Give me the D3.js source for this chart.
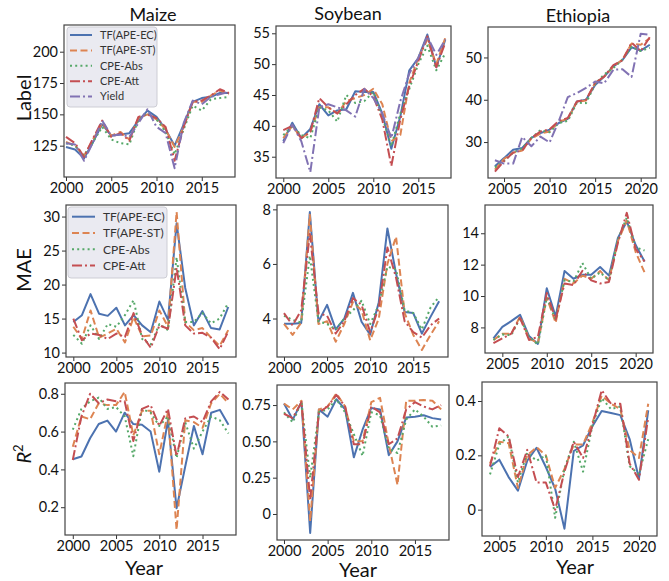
<!DOCTYPE html>
<html>
<head>
<meta charset="utf-8">
<script src="https://cdn.jsdelivr.net/npm/d3@7"></script>
<style>
  body { margin: 0; background: #fff; }
  svg { display: block; font-family: Lato, "Open Sans", sans-serif; }
</style>
</head>
<body>
<svg id="chart" width="669" height="581"></svg>
<script>
// ---- data ----
const seriesNames = ['TF(APE-EC)', 'TF(APE-ST)', 'CPE-Abs', 'CPE-Att', 'Yield'];
const cropNames = ['Maize', 'Soybean', 'Ethiopia'];
const metricNames = ['Label', 'MAE', 'R2'];

const usYears = [2000, 2001, 2002, 2003, 2004, 2005, 2006, 2007, 2008, 2009, 2010, 2011, 2012, 2013, 2014, 2015, 2016, 2017, 2018];
const ethYears = [2004, 2005, 2006, 2007, 2008, 2009, 2010, 2011, 2012, 2013, 2014, 2015, 2016, 2017, 2018, 2019, 2020, 2021];

// Maize - Label
const maizeLabelEC = [124, 122, 115, 128, 142, 133, 134, 135, 145, 153, 148, 138, 125, 142, 160, 163, 164, 167, 167];
const maizeLabelST = [128, 125, 117, 130, 143, 133, 136, 130, 147, 150, 146, 138, 124, 140, 160, 160, 165, 169, 166];
const maizeLabelAbs = [127, 125, 117, 128, 140, 130, 127, 126, 146, 151, 146, 136, 118, 138, 157, 153, 162, 163, 164];
const maizeLabelAtt = [132, 127, 116, 131, 145, 132, 135, 129, 148, 150, 147, 140, 113, 140, 160, 161, 165, 170, 167];
const maizeYield = [127, 126, 113, 128, 145, 133, 134, 132, 143, 154, 140, 135, 107, 143, 161, 158, 164, 166, 168];

// Soybean - Label
const soyLabelEC = [37.5, 40.5, 38, 39.5, 43.5, 41.7, 42.5, 42.7, 45.6, 45.5, 45.5, 42, 36.3, 41.5, 49, 51, 54.8, 49.5, 54];
const soyLabelST = [38, 40, 38, 39, 43, 43, 42, 44, 44.5, 45, 46, 43.5, 37.5, 38.5, 47, 51, 54, 50, 54.3];
const soyLabelAbs = [38.5, 40, 38.5, 38, 43, 42.5, 40.7, 45, 43.7, 44, 45.5, 41.5, 36.7, 42, 46, 50, 53, 49, 51.8];
const soyLabelAtt = [39.3, 40, 38, 39, 44.5, 43, 42, 43.5, 45, 46, 44.8, 41, 33.5, 41, 46.5, 50.5, 54.5, 49.5, 53.5];
const soyYield = [37.2, 40.2, 37.5, 32.5, 43, 43.5, 43, 42.5, 41.5, 46, 44.5, 42, 38, 44, 48.5, 51, 54.5, 51.5, 54];

// Ethiopia - Label
const ethLabelEC = [24.3, 26.2, 28.2, 28.6, 31, 32.1, 32.9, 34.5, 35.5, 39.6, 40, 43.5, 45.5, 47.9, 49.4, 52.4, 51.6, 53];
const ethLabelST = [23.5, 26, 27.5, 28, 30.8, 32, 32.5, 34.8, 35.5, 39.5, 39.8, 44, 45.5, 47.8, 49.5, 53.3, 53, 54.5];
const ethLabelAbs = [24, 25.5, 27.5, 28.5, 31, 32.8, 32.3, 34.5, 35, 39.3, 39.2, 43.7, 46, 47.5, 49.5, 52.5, 51.5, 52.3];
const ethLabelAtt = [23, 25.5, 27.5, 28, 31, 32.5, 33, 35, 35.7, 39.6, 40, 44, 45.5, 48.2, 49.3, 53.5, 51.5, 54.8];
const ethYield = [25.7, 24.9, 24.9, 31.2, 29, 31.3, 29.9, 34.9, 40.6, 41.6, 42.8, 44.3, 43.9, 47.1, 47.2, 45.4, 55.6, 55.4];

// Maize - MAE
const maizeMaeEC = [14.5, 15.5, 18.6, 15.7, 15.4, 16.6, 14, 15.5, 14, 13, 17.5, 14.8, 29, 19.5, 14, 16.1, 13.6, 13.4, 16.7];
const maizeMaeST = [13.8, 12, 16.2, 12.2, 12.8, 13.5, 11.5, 15.2, 12.4, 12.5, 16.2, 13.8, 30.7, 14.5, 13.3, 13.6, 12.2, 11, 13.3];
const maizeMaeAbs = [12.6, 11.3, 14, 12, 14.2, 13.8, 15.5, 17.7, 12, 11.2, 14.2, 13.3, 24, 14.5, 14.5, 15.8, 14.3, 15, 17.3];
const maizeMaeAtt = [15, 11.8, 12.8, 12.6, 12, 12.8, 12.3, 15.8, 12.5, 10.7, 14, 13.5, 22.5, 14, 12.8, 12.9, 12.2, 10.5, 13.1];

// Soybean - MAE
const soyMaeEC = [3.81, 3.81, 3.84, 7.9, 3.88, 4.5, 3.6, 4, 4.94, 3.88, 3.41, 4.6, 7.3, 5.65, 4.24, 4.2, 3.45, 4.06, 4.63];
const soyMaeST = [3.8, 3.4, 3.85, 7.8, 3.8, 3.9, 3.15, 3.8, 4.6, 4.3, 3.2, 4, 6, 7, 4.2, 3.4, 2.85, 3.4, 3.9];
const soyMaeAbs = [4.1, 3.95, 3.85, 6.3, 3.9, 3.8, 3.6, 4, 4.3, 4.65, 3.8, 4.5, 5.9, 5.8, 4.3, 4.2, 3.6, 4.4, 4.8];
const soyMaeAtt = [4.2, 3.75, 4.3, 7.1, 4.2, 4.1, 3.45, 3.9, 4.75, 4.5, 3.5, 4.4, 6.6, 5.5, 3.9, 3.5, 3.3, 3.75, 4];

// Ethiopia - MAE
const ethMaeEC = [7.3, 8.03, 8.4, 8.8, 7.45, 6.95, 10.5, 8.7, 11.6, 11.1, 11.35, 11.35, 11.85, 11.3, 13.7, 14.75, 13.25, 12.2];
const ethMaeST = [7.2, 7.6, 7.6, 8.7, 7.3, 7, 9.9, 8.3, 11.1, 10.8, 11.3, 11.1, 11.6, 11, 13.5, 14.8, 12.8, 11.5];
const ethMaeAbs = [7.2, 7.55, 7.5, 8.6, 7.4, 6.9, 9.9, 8.5, 11, 10.9, 12.1, 11.1, 11.5, 11, 13.6, 15, 13.1, 12.9];
const ethMaeAtt = [7, 7.3, 7.6, 8.6, 7.2, 7.4, 10.2, 8.5, 10.8, 10.7, 11.6, 11, 10.8, 10.9, 13.4, 15.3, 13, 12.2];

// Maize - R2
const maizeR2EC = [0.454, 0.468, 0.565, 0.64, 0.658, 0.6, 0.7, 0.64, 0.636, 0.6, 0.388, 0.66, 0.194, 0.415, 0.63, 0.48, 0.7, 0.715, 0.636];
const maizeR2ST = [0.52, 0.68, 0.665, 0.75, 0.74, 0.74, 0.81, 0.58, 0.71, 0.71, 0.48, 0.7, 0.08, 0.66, 0.65, 0.62, 0.75, 0.8, 0.75];
const maizeR2Abs = [0.61, 0.72, 0.76, 0.78, 0.72, 0.73, 0.68, 0.47, 0.72, 0.7, 0.63, 0.68, 0.46, 0.65, 0.51, 0.6, 0.68, 0.66, 0.59];
const maizeR2Att = [0.45, 0.68, 0.8, 0.75, 0.77, 0.76, 0.76, 0.55, 0.72, 0.74, 0.63, 0.72, 0.47, 0.67, 0.68, 0.65, 0.76, 0.81, 0.77];

// Soybean - R2
const soyR2EC = [0.76, 0.65, 0.77, -0.13, 0.72, 0.67, 0.79, 0.72, 0.39, 0.58, 0.73, 0.72, 0.405, 0.5, 0.665, 0.67, 0.68, 0.66, 0.65];
const soyR2ST = [0.76, 0.72, 0.78, -0.05, 0.72, 0.74, 0.83, 0.74, 0.5, 0.5, 0.77, 0.8, 0.48, 0.2, 0.78, 0.78, 0.785, 0.78, 0.72];
const soyR2Abs = [0.7, 0.63, 0.77, 0.25, 0.7, 0.72, 0.79, 0.7, 0.55, 0.4, 0.7, 0.68, 0.45, 0.42, 0.65, 0.72, 0.67, 0.6, 0.61];
const soyR2Att = [0.69, 0.66, 0.77, 0.1, 0.7, 0.74, 0.82, 0.74, 0.48, 0.48, 0.74, 0.7, 0.48, 0.52, 0.72, 0.77, 0.74, 0.72, 0.75];

// Ethiopia - R2
const ethR2EC = [0.157, 0.184, 0.12, 0.07, 0.18, 0.228, 0.157, 0.077, -0.07, 0.216, 0.237, 0.307, 0.363, 0.356, 0.348, 0.26, 0.114, 0.366];
const ethR2ST = [0.17, 0.25, 0.245, 0.08, 0.2, 0.23, 0.2, 0.08, 0.15, 0.24, 0.24, 0.32, 0.42, 0.39, 0.37, 0.22, 0.19, 0.39];
const ethR2Abs = [0.13, 0.24, 0.27, 0.1, 0.21, 0.18, 0.2, -0.03, 0.15, 0.25, 0.14, 0.31, 0.41, 0.37, 0.38, 0.16, 0.13, 0.26];
const ethR2Att = [0.16, 0.3, 0.27, 0.12, 0.22, 0.1, 0.1, 0.0, 0.14, 0.25, 0.19, 0.31, 0.44, 0.39, 0.39, 0.17, 0.11, 0.34];

// tick labels
const usXTicks = [2000, 2005, 2010, 2015];
const ethXTicks = [2005, 2010, 2015, 2020];
const maizeLabelTicks = [125, 150, 175, 200];
const soyLabelTicks = [35, 40, 45, 50, 55];
const ethLabelTicks = [30, 40, 50];
const maizeMaeTicks = [10, 15, 20, 25, 30];
const soyMaeTicks = [4, 6, 8];
const ethMaeTicks = [8, 10, 12, 14];
const maizeR2Ticks = [0.2, 0.4, 0.6, 0.8];
const maizeR2TickText = ['0.2', '0.4', '0.6', '0.8'];
const soyR2Ticks = [0, 0.25, 0.5, 0.75];
const soyR2TickText = ['0', '0.25', '0.50', '0.75'];
const ethR2Ticks = [0, 0.2, 0.4];
const ethR2TickText = ['0', '0.2', '0.4'];

// ---- styling ----
const colors = ['#4c72b0', '#dd8452', '#55a868', '#c44e52', '#8172b3'];
const dashes = [null, '7,3.5', '2,3.2', '10,3,2,3', '10,3,2,3'];

const svg = d3.select('#chart');

const panels = [
  { box: [64, 25, 235, 177], xd: [1999.78, 2018.67], yd: [100, 221.3], years: usYears, xt: usXTicks, yt: maizeLabelTicks,
    data: [maizeLabelEC, maizeLabelST, maizeLabelAbs, maizeLabelAtt, maizeYield] },
  { box: [276, 26, 451, 178], xd: [1999.19, 2018.63], yd: [31.55, 56.18], years: usYears, xt: usXTicks, yt: soyLabelTicks,
    data: [soyLabelEC, soyLabelST, soyLabelAbs, soyLabelAtt, soyYield] },
  { box: [488, 27, 656, 178], xd: [2003.24, 2021.68], yd: [21.5, 57.2], years: ethYears, xt: ethXTicks, yt: ethLabelTicks,
    data: [ethLabelEC, ethLabelST, ethLabelAbs, ethLabelAtt, ethYield] },
  { box: [66, 205, 236, 357], xd: [1999.15, 2018.9], yd: [9.35, 31.7], years: usYears, xt: usXTicks, yt: maizeMaeTicks,
    data: [maizeMaeEC, maizeMaeST, maizeMaeAbs, maizeMaeAtt] },
  { box: [277, 205, 448, 357], xd: [1999.19, 2019.03], yd: [2.59, 8.16], years: usYears, xt: usXTicks, yt: soyMaeTicks,
    data: [soyMaeEC, soyMaeST, soyMaeAbs, soyMaeAtt] },
  { box: [485, 205, 653, 353], xd: [2003.05, 2021.95], yd: [6.37, 15.8], years: ethYears, xt: ethXTicks, yt: ethMaeTicks,
    data: [ethMaeEC, ethMaeST, ethMaeAbs, ethMaeAtt] },
  { box: [65, 383, 236, 535], xd: [1999.1, 2018.87], yd: [0.053, 0.857], years: usYears, xt: usXTicks, yt: maizeR2Ticks, ytText: maizeR2TickText,
    data: [maizeR2EC, maizeR2ST, maizeR2Abs, maizeR2Att] },
  { box: [277, 385, 449, 540], xd: [1999.2, 2018.9], yd: [-0.179, 0.888], years: usYears, xt: usXTicks, yt: soyR2Ticks, ytText: soyR2TickText,
    data: [soyR2EC, soyR2ST, soyR2Abs, soyR2Att] },
  { box: [482, 382, 657, 536], xd: [2003.14, 2021.94], yd: [-0.097, 0.47], years: ethYears, xt: ethXTicks, yt: ethR2Ticks, ytText: ethR2TickText,
    data: [ethR2EC, ethR2ST, ethR2Abs, ethR2Att] }
];

panels.forEach((p, pi) => {
  const [x0, y0, x1, y1] = p.box;
  const x = d3.scaleLinear().domain(p.xd).range([x0, x1]);
  const y = d3.scaleLinear().domain(p.yd).range([y1, y0]);
  const g = svg.append('g');

  g.append('clipPath').attr('id', 'clip' + pi)
    .append('rect').attr('x', x0).attr('y', y0).attr('width', x1 - x0).attr('height', y1 - y0);

  // Adds the series lines
  const line = d3.line().x(d => x(d[0])).y(d => y(d[1]));
  const lines = g.append('g').attr('clip-path', `url(#clip${pi})`);
  p.data.forEach((vals, si) => {
    lines.append('path')
      .datum(vals.map((v, i) => [p.years[i], v]))
      .attr('d', line)
      .style('fill', 'none')
      .style('stroke', colors[si])
      .style('stroke-width', 2)
      .style('stroke-dasharray', dashes[si])
      .style('stroke-linejoin', 'round');
  });

  // Adds X-axis
  const xa = g.append('g')
    .attr('transform', `translate(0,${y1})`)
    .call(d3.axisBottom(x).tickValues(p.xt).tickFormat(d3.format('d')).tickSize(4).tickPadding(2));
  // Adds Y-axis
  const ya = g.append('g')
    .attr('transform', `translate(${x0},0)`)
    .call(d3.axisLeft(y).tickValues(p.yt)
      .tickFormat((d, i) => p.ytText ? p.ytText[i] : d)
      .tickSize(4).tickPadding(2));
  [xa, ya].forEach(a => {
    a.select('.domain').remove();
    a.selectAll('line').style('stroke', '#333');
    a.selectAll('text').style('font-size', '14.5px').style('fill', '#111').style('font-family', 'Lato, sans-serif');
  });

  // frame
  g.append('rect')
    .attr('x', x0).attr('y', y0).attr('width', x1 - x0).attr('height', y1 - y0)
    .style('fill', 'none').style('stroke', '#444').style('stroke-width', 1.2);
});

// Adds column titles
const titlePos = [[153, 20.5], [348, 20], [578, 21.5]];
cropNames.forEach((c, i) => {
  svg.append('text')
    .attr('x', titlePos[i][0]).attr('y', titlePos[i][1])
    .attr('text-anchor', 'middle')
    .style('font-size', '18px').style('fill', '#111')
    .text(c);
});

// Adds Y-axis titles
const ylabPos = [[31, 98], [31, 270], [31, 454]];
metricNames.forEach((m, i) => {
  const t = svg.append('text')
    .attr('transform', `translate(${ylabPos[i][0]},${ylabPos[i][1]}) rotate(-90)`)
    .attr('text-anchor', 'middle')
    .style('font-size', '20px').style('fill', '#111');
  if (m === 'R2') {
    t.append('tspan').style('font-style', 'italic').text('R');
    t.append('tspan').attr('dy', -8).style('font-size', '13px').text('2');
  } else {
    t.text(m);
  }
});

// Adds X-axis titles
const yearPos = [[144, 575], [358, 577], [575, 574]];
yearPos.forEach(pos => {
  svg.append('text')
    .attr('x', pos[0]).attr('y', pos[1])
    .attr('text-anchor', 'middle')
    .style('font-size', '20px').style('fill', '#111')
    .text('Year');
});

// Adds the legends
const legends = [
  { x: 67, y: 27, w: 90, h: 80, n: 5, row: 15.4, first: 8, fs: 11, lx: [3, 25], tx: 33 },
  { x: 68, y: 207, w: 99, h: 71, n: 4, row: 16.3, first: 9.7, fs: 12, lx: [4, 27], tx: 35 }
];
legends.forEach(L => {
  const g = svg.append('g').attr('transform', `translate(${L.x},${L.y})`);
  g.append('rect').attr('width', L.w).attr('height', L.h).attr('rx', 3)
    .style('fill', '#eaeaf1').style('stroke', '#cdcdd4').style('stroke-width', 1);
  seriesNames.slice(0, L.n).forEach((name, i) => {
    const cy = L.first + i * L.row;
    g.append('line')
      .attr('x1', L.lx[0]).attr('x2', L.lx[1]).attr('y1', cy).attr('y2', cy)
      .style('stroke', colors[i]).style('stroke-width', 2)
      .style('stroke-dasharray', dashes[i]);
    g.append('text')
      .attr('x', L.tx).attr('y', cy).attr('dy', '0.35em')
      .style('font-size', L.fs + 'px').style('fill', '#333')
      .text(name);
  });
});
</script>
</body>
</html>
